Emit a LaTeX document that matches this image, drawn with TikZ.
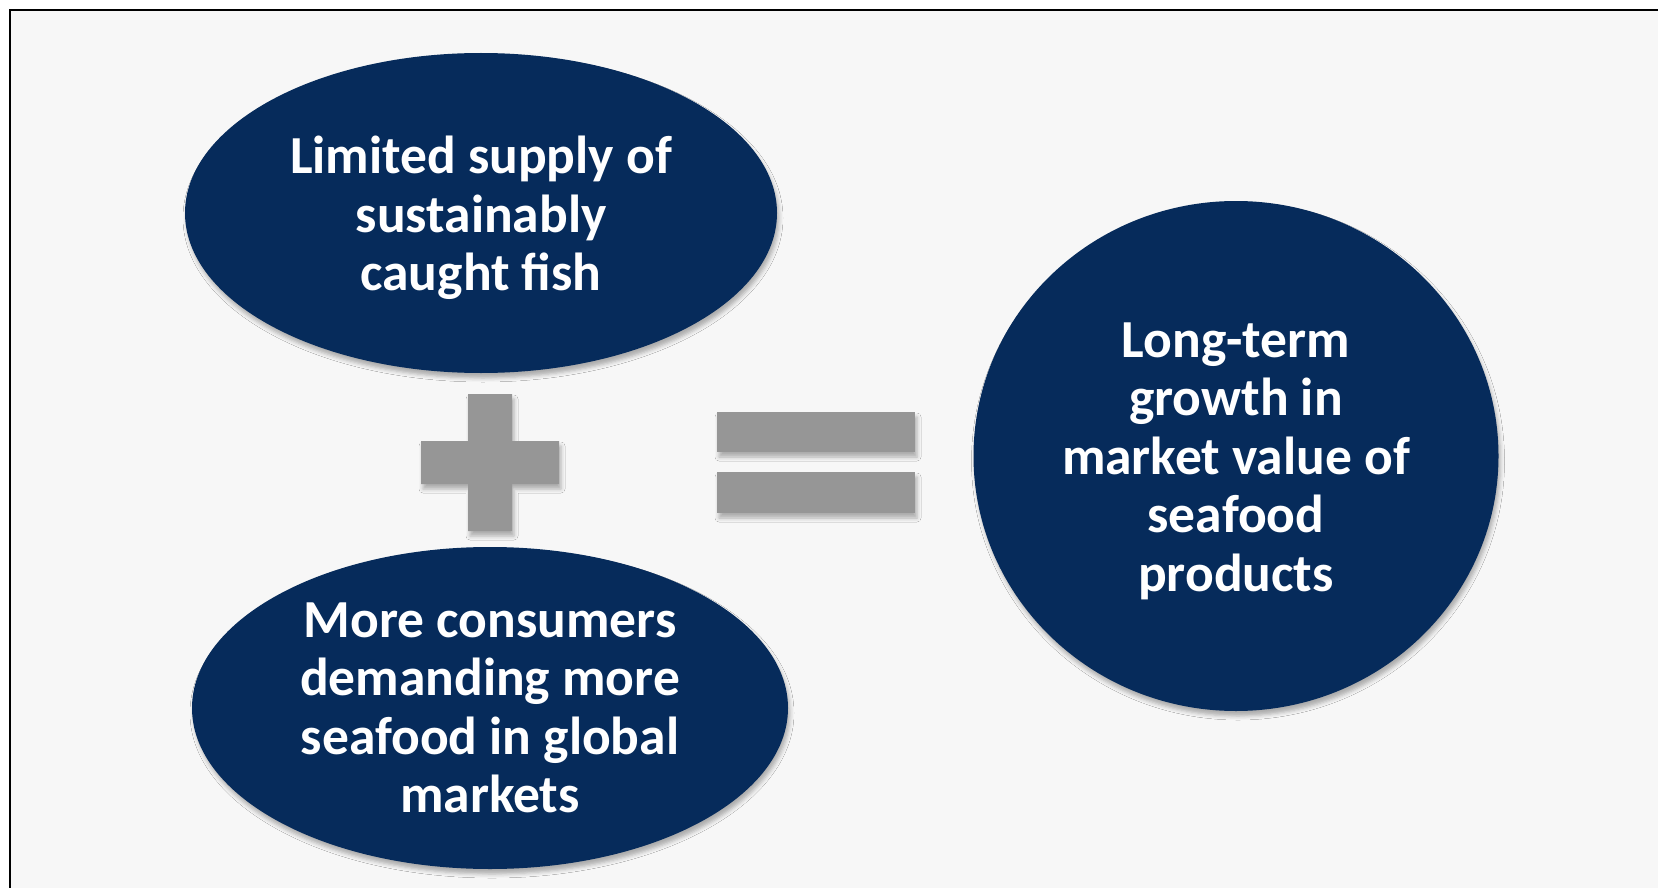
\documentclass[tikz,border=0pt]{standalone}
\usepackage{fontspec}
\setmainfont{Carlito}
\usetikzlibrary{shapes.geometric,shadows.blur}
\definecolor{navy}{RGB}{6,43,91}
\definecolor{signgray}{RGB}{150,150,150}
\definecolor{panel}{RGB}{247,247,247}
\begin{document}
\begin{tikzpicture}[x=1pt,y=-1pt,
  soft/.style={blur shadow={shadow xshift=2pt,shadow yshift=-5pt,shadow blur radius=4pt,shadow opacity=30}},
  bubble/.style={ellipse,fill=navy,draw=none,inner sep=0pt,soft},
  label/.style={text=white,align=center,inner sep=0pt,
    font=\fontsize{53.5}{58.5}\selectfont\bfseries},
  sign/.style={fill=signgray,soft}]
  % page and panel
  \useasboundingbox (0,0) rectangle (1658,888);
  \fill[white] (0,0) rectangle (1658,888);
  \fill[panel] (10,10) rectangle (1658,888);
  \draw[line width=2.2pt] (10,888) -- (10,10) -- (1658,10);

  % the two causes
  \node[bubble,minimum width=592pt,minimum height=320pt] (supply) at (481,213) {};
  \node[label] (supplytxt) at ([yshift=-5pt]supply.center) {Limited supply of\\sustainably\\caught fish};
  \node[bubble,minimum width=596pt,minimum height=322pt] (demand) at (490,708) {};
  \node[label] (demandtxt) at (demand.center) {More consumers\\demanding more\\seafood in global\\markets};

  % the result
  \node[bubble,minimum width=525pt,minimum height=510pt] (growth) at (1236,456) {};
  \node[label] (growthtxt) at ([yshift=-5pt]growth.center) {Long-term\\growth in\\market value of\\seafood\\products};

  % plus sign
  \path[sign] (468,394) -- (512,394) -- (512,441) -- (559,441) -- (559,484) -- (512,484)
    -- (512,531) -- (468,531) -- (468,484) -- (421,484) -- (421,441) -- (468,441) -- cycle;
  % equals sign
  \path[sign] (717,412) rectangle (915,452);
  \path[sign] (717,472) rectangle (915,513);
\end{tikzpicture}
\end{document}
